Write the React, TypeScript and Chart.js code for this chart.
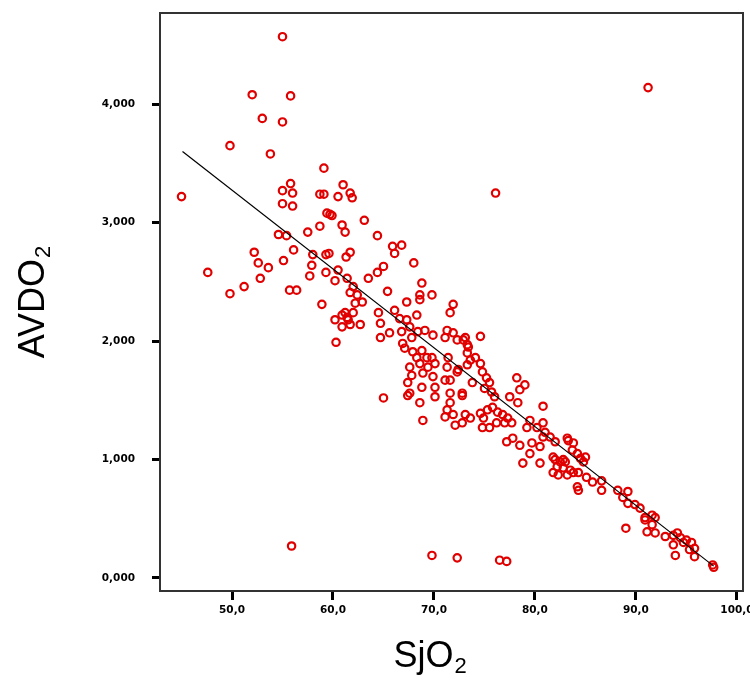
import React, { useEffect, useRef } from "react";
import { Chart, registerables } from "chart.js";

Chart.register(...registerables);

// SjO2 (%) values of each observation
const sjo2: number[] = [
  55.0, 52.0, 55.8, 53.0, 55.0, 49.8, 53.8, 45.0, 59.1, 55.8, 55.0, 56.0,
  55.0, 56.0, 58.7, 59.1, 61.0, 60.5, 61.7, 61.9, 59.4, 59.7, 91.2, 76.1,
  47.6, 49.8, 51.2, 52.2, 52.6, 53.6, 52.8, 54.6, 55.4, 55.1, 56.1, 55.7,
  56.4, 57.5, 58.7, 59.9, 60.9, 61.2, 58.0, 59.3, 59.6, 57.9, 57.7, 59.3,
  60.5, 60.2, 58.9, 60.2, 60.9, 61.4, 60.9, 60.3, 61.3, 64.4, 65.9, 66.8,
  66.1, 61.7, 68.0, 65.0, 64.4, 63.5, 61.4, 62.0, 61.7, 62.4, 62.9, 62.2,
  65.4, 68.8, 68.6, 68.6, 69.8, 67.3, 71.9, 71.6, 61.2, 61.5, 62.0, 62.7,
  61.7, 64.5, 64.7, 64.7, 65.6, 65.0, 66.1, 66.6, 67.3, 68.3, 67.6, 66.8,
  66.9, 67.8, 68.4, 69.1, 69.9, 71.3, 71.9, 71.1, 72.3, 73.1, 73.3, 67.1,
  67.9, 68.8, 69.3, 68.3, 69.8, 67.6, 68.6, 69.4, 70.1, 67.8, 68.9, 71.4,
  71.3, 72.4, 73.3, 67.4, 67.6, 68.8, 70.1, 68.6, 70.1, 71.6, 71.6, 72.8,
  71.6, 68.9, 67.4, 74.6, 72.9, 73.4, 73.3, 73.6, 74.1, 74.6, 69.9, 71.1,
  72.3, 74.8, 75.2, 75.5, 75.0, 75.7, 76.0, 73.8, 72.8, 71.3, 71.1, 71.9,
  72.1, 73.1, 73.6, 72.8, 74.6, 74.9, 74.8, 75.5, 75.3, 75.8, 76.3, 76.8,
  77.3, 77.7, 77.0, 76.2, 78.2, 79.0, 78.5, 77.5, 78.3, 80.8, 79.5, 80.2,
  79.2, 80.8, 81.0, 81.5, 82.0, 77.2, 77.8, 78.5, 79.7, 80.5, 83.2, 78.8,
  80.5, 79.5, 81.8, 82.8, 83.3, 83.8, 83.7, 84.2, 84.5, 85.0, 84.8, 82.0,
  82.5, 83.0, 82.2, 82.8, 83.5, 81.8, 82.3, 83.2, 83.8, 84.3, 85.1, 85.7,
  86.6, 86.6, 84.2, 84.3, 88.2, 89.2, 88.7, 89.2, 89.9, 90.4, 91.6, 90.9,
  89.0, 80.8, 90.9, 91.9, 91.6, 91.1, 91.9, 92.9, 93.7, 94.1, 94.4, 94.7,
  93.7, 95.0, 95.5, 95.8, 95.3, 93.9, 95.8, 97.6, 97.7, 55.9, 69.8, 72.3,
  76.5, 77.2, 63.1,
];

// AVDO2 values of each observation (same order)
const avdo2: number[] = [
  4.57, 4.08, 4.07, 3.88, 3.85, 3.65, 3.58, 3.22, 3.46, 3.33, 3.27, 3.25,
  3.16, 3.14, 3.24, 3.24, 3.32, 3.22, 3.25, 3.21, 3.08, 3.07, 4.14, 3.25,
  2.58, 2.40, 2.46, 2.75, 2.66, 2.62, 2.53, 2.90, 2.89, 2.68, 2.77, 2.43,
  2.43, 2.92, 2.97, 3.06, 2.98, 2.92, 2.73, 2.73, 2.74, 2.64, 2.55, 2.58,
  2.60, 2.51, 2.31, 2.18, 2.22, 2.20, 2.12, 1.99, 2.71, 2.89, 2.80, 2.81,
  2.74, 2.75, 2.66, 2.63, 2.58, 2.53, 2.53, 2.46, 2.41, 2.39, 2.33, 2.32,
  2.42, 2.49, 2.39, 2.35, 2.39, 2.33, 2.31, 2.24, 2.24, 2.18, 2.24, 2.14,
  2.14, 2.24, 2.15, 2.03, 2.07, 1.52, 2.26, 2.19, 2.18, 2.22, 2.12, 2.08,
  1.98, 2.03, 2.08, 2.09, 2.05, 2.09, 2.07, 2.03, 2.01, 2.03, 1.97, 1.94,
  1.91, 1.92, 1.86, 1.86, 1.86, 1.78, 1.81, 1.78, 1.81, 1.71, 1.73, 1.86,
  1.78, 1.76, 1.80, 1.65, 1.56, 1.61, 1.61, 1.48, 1.53, 1.67, 1.56, 1.56,
  1.48, 1.33, 1.54, 2.04, 2.01, 1.95, 1.90, 1.84, 1.86, 1.81, 1.70, 1.67,
  1.74, 1.74, 1.69, 1.65, 1.60, 1.57, 1.53, 1.65, 1.54, 1.42, 1.36, 1.38,
  1.29, 1.38, 1.35, 1.31, 1.39, 1.35, 1.27, 1.27, 1.42, 1.44, 1.40, 1.38,
  1.35, 1.31, 1.31, 1.31, 1.69, 1.63, 1.59, 1.53, 1.48, 1.45, 1.33, 1.27,
  1.27, 1.31, 1.23, 1.19, 1.15, 1.15, 1.18, 1.12, 1.14, 1.11, 1.18, 0.97,
  0.97, 1.05, 1.02, 1.00, 1.16, 1.14, 1.08, 1.05, 1.01, 1.02, 0.98, 1.00,
  0.98, 0.98, 0.94, 0.93, 0.91, 0.89, 0.87, 0.87, 0.89, 0.89, 0.85, 0.81,
  0.82, 0.74, 0.77, 0.74, 0.74, 0.73, 0.68, 0.63, 0.62, 0.59, 0.53, 0.51,
  0.42, 1.19, 0.49, 0.51, 0.45, 0.39, 0.38, 0.35, 0.36, 0.38, 0.34, 0.30,
  0.28, 0.32, 0.30, 0.25, 0.24, 0.19, 0.18, 0.11, 0.09, 0.27, 0.19, 0.17,
  0.15, 0.14, 3.02,
];

// Fit line end points
const fitX: number[] = [45.1, 97.7];
const fitY: number[] = [3.6, 0.1];

const xTicks: number[] = [50, 60, 70, 80, 90, 100];
const yTicks: number[] = [0, 1, 2, 3, 4];

const xTitleMain = "SjO";
const xTitleSub = "2";
const yTitleMain = "AVDO";
const yTitleSub = "2";

const TITLE_FONT = '"Liberation Sans", Arial, sans-serif';

function drawSubTitle(ctx: CanvasRenderingContext2D, main: string, sub: string, cx: number, baseY: number) {
  ctx.font = `36px ${TITLE_FONT}`;
  const wMain = ctx.measureText(main).width;
  ctx.font = `22px ${TITLE_FONT}`;
  const wSub = ctx.measureText(sub).width;
  const x0 = cx - (wMain + wSub + 1) / 2;
  ctx.font = `36px ${TITLE_FONT}`;
  ctx.fillText(main, x0, baseY);
  ctx.font = `22px ${TITLE_FONT}`;
  ctx.fillText(sub, x0 + wMain + 1, baseY + 6);
}

const framePlugin = {
  id: "frameAndTitles",
  afterDraw(chart: any) {
    const { ctx, chartArea: a } = chart;
    ctx.save();
    ctx.strokeStyle = "#333";
    ctx.lineWidth = 2;
    ctx.strokeRect(a.left, a.top, a.right - a.left, a.bottom - a.top);

    ctx.fillStyle = "#000";
    ctx.textBaseline = "alphabetic";
    ctx.textAlign = "left";
    drawSubTitle(ctx, xTitleMain, xTitleSub, 430, 667);

    ctx.translate(44, (a.top + a.bottom) / 2);
    ctx.rotate(-Math.PI / 2);
    drawSubTitle(ctx, yTitleMain, yTitleSub, 0, 0);
    ctx.restore();
  },
};

function zeroPadding(s: any) {
  s.paddingLeft = 0;
  s.paddingRight = 0;
  s.paddingTop = 0;
  s.paddingBottom = 0;
}

export default function App() {
  const canvasRef = useRef<HTMLCanvasElement | null>(null);

  useEffect(() => {
    document.body.style.margin = "0";
    const canvas = canvasRef.current;
    if (!canvas) return;
    const tickFont = { family: '"DejaVu Sans", sans-serif', size: 10.5, weight: "bold" as const };
    const chart = new Chart(canvas, {
      type: "scatter",
      data: {
        datasets: [
          {
            type: "line",
            data: fitX.map((x, i) => ({ x, y: fitY[i] })),
            borderColor: "#000",
            borderWidth: 1.2,
            pointRadius: 0,
            fill: false,
            order: 0,
          } as any,
          {
            data: sjo2.map((x, i) => ({ x, y: avdo2[i] })),
            pointStyle: "circle",
            pointRadius: 3.7,
            borderColor: "#e00000",
            borderWidth: 2.2,
            backgroundColor: "rgba(0,0,0,0)",
            order: 1,
          },
        ],
      },
      options: {
        responsive: false,
        animation: false,
        layout: { padding: { top: 13, right: 7, left: 0, bottom: 0 } },
        plugins: { legend: { display: false }, tooltip: { enabled: false } },
        scales: {
          x: {
            type: "linear",
            min: 42.87,
            max: 100.6,
            afterBuildTicks: (s: any) => {
              s.ticks = xTicks.map((v) => ({ value: v }));
            },
            afterFit: (s: any) => {
              s.height = 102;
              zeroPadding(s);
            },
            grid: {
              drawOnChartArea: false,
              drawTicks: true,
              tickLength: 9,
              tickWidth: 3,
              tickColor: "#000",
            },
            border: { display: false },
            ticks: {
              font: tickFont,
              color: "#000",
              padding: 4,
              maxRotation: 0,
              autoSkip: false,
              callback: (v: any) => Number(v).toFixed(1).replace(".", ","),
            },
          },
          y: {
            type: "linear",
            min: -0.11,
            max: 4.77,
            afterBuildTicks: (s: any) => {
              s.ticks = yTicks.map((v) => ({ value: v }));
            },
            afterFit: (s: any) => {
              s.width = 160;
              zeroPadding(s);
            },
            grid: {
              drawOnChartArea: false,
              drawTicks: true,
              tickLength: 8,
              tickWidth: 3,
              tickColor: "#000",
            },
            border: { display: false },
            ticks: {
              font: tickFont,
              color: "#000",
              padding: 17,
              autoSkip: false,
              callback: (v: any) => Number(v).toFixed(3).replace(".", ","),
            },
          },
        },
      },
      plugins: [framePlugin],
    });
    return () => chart.destroy();
  }, []);

  return (
    <div style={{ width: 750, height: 693, background: "#fff" }}>
      <canvas ref={canvasRef} width={750} height={693} style={{ display: "block" }} />
    </div>
  );
}
